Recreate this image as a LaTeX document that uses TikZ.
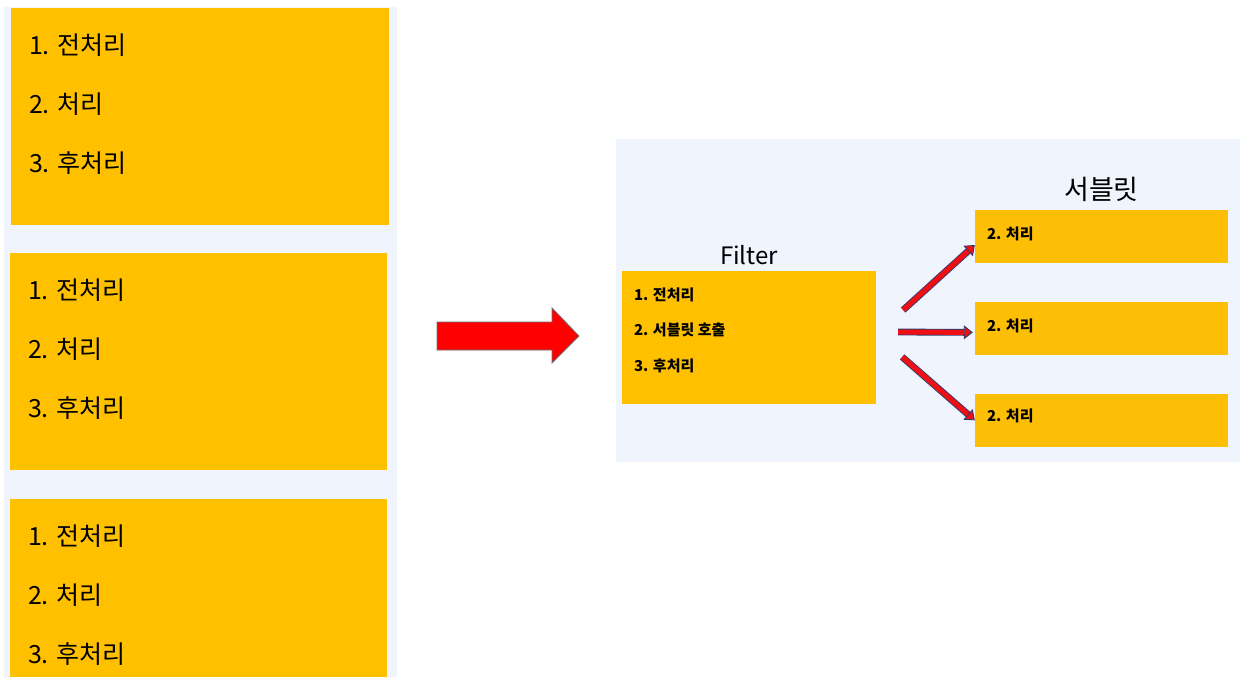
\documentclass[tikz,border=0pt]{standalone}
\usepackage{fontspec}
\setmainfont{Noto Sans CJK KR}
\usetikzlibrary{calc,positioning,arrows.meta}

\definecolor{boxyellow}{HTML}{FFC000}
\definecolor{srvyellow}{HTML}{FCBF06}
\definecolor{panelblue}{HTML}{F0F4FD}
\definecolor{arrowred}{HTML}{F20F14}
\definecolor{arrowedge}{HTML}{2F3A6C}
\definecolor{bigedge}{HTML}{6B7078}

\begin{document}
\begin{tikzpicture}[x=1pt,y=-1pt,
    procbox/.style={fill=boxyellow, inner sep=0pt},
    srvbox/.style={fill=srvyellow, inner sep=0pt, minimum width=253pt, minimum height=53pt},
    bigitem/.style={anchor=west, inner sep=0pt, font=\fontsize{25}{30}\selectfont},
    smallitem/.style={anchor=west, inner sep=0pt, font=\fontsize{15}{18}\selectfont\bfseries},
    flowarrow/.style={draw=arrowedge, line width=0.9pt, double=arrowred, double distance=5pt,
      -{Triangle[length=9pt, width=14pt, fill=arrowred]}}]
    \useasboundingbox (0,0) rectangle (1243,690);
    \fill[white] (0,0) rectangle (1243,690);

    % Left side: every request does all three steps
    \fill[panelblue] (4,7) rectangle (397,677);
    \node[procbox, minimum width=378pt, minimum height=217pt] (req1) at (200,116.5) {};
    \node[procbox, minimum width=377pt, minimum height=217pt] (req2) at (198.5,361.5) {};
    \node[procbox, minimum width=377pt, minimum height=178pt] (req3) at (198.5,588) {};
    \foreach \r in {req1,req2,req3} {
        \node[bigitem] (\r-a) at ($(\r.north west)+(18,37)$) {1. 전처리};
        \node[bigitem] (\r-b) at ($(\r.north west)+(18,96)$) {2. 처리};
        \node[bigitem] (\r-c) at ($(\r.north west)+(18,155)$) {3. 후처리};
    }

    % Big arrow in the middle
    \filldraw[fill=red, draw=bigedge, line width=0.8pt]
        (437,322) -- (552,322) -- (552,308) -- (579,336) -- (552,363) -- (552,350) -- (437,350) -- cycle;

    % Right side: filter in front of the servlets
    \fill[panelblue] (616,139) rectangle (1240,462);
    \node[procbox, minimum width=254pt, minimum height=133pt] (filter) at (749,337.5) {};
    \node[above=2pt of filter, font=\fontsize{24}{28}\selectfont] (filtertitle) {Filter};
    \node[smallitem] (filter-a) at ($(filter.north west)+(12,24)$) {1. 전처리};
    \node[smallitem] (filter-b) at ($(filter.north west)+(12,59)$) {2. 서블릿 호출};
    \node[smallitem] (filter-c) at ($(filter.north west)+(12,95)$) {3. 후처리};

    \node[srvbox] (srv1) at (1101.5,236.5) {};
    \node[srvbox, below=39pt of srv1] (srv2) {};
    \node[srvbox, below=38pt of srv2] (srv3) {};
    \node[above=5pt of srv1, font=\fontsize{27}{32}\selectfont] (srvtitle) {서블릿};
    \node[smallitem] (srv1-a) at ($(srv1.west)+(12,-3)$) {2. 처리};
    \node[smallitem] (srv2-a) at ($(srv2.west)+(12,-3)$) {2. 처리};
    \node[smallitem] (srv3-a) at ($(srv3.west)+(12,-4)$) {2. 처리};

    % Arrows from the filter to each servlet
    \draw[flowarrow] ($(filter.east)+(27,-27.5)$) -- ($(srv1.west)+(0,8.5)$);
    \draw[flowarrow] ($(filter.east)+(22,-5.5)$) -- ($(srv2.west)+(-2,3.5)$);
    \draw[flowarrow] ($(filter.east)+(26,19.5)$) -- (srv3.west);
\end{tikzpicture}
\end{document}
